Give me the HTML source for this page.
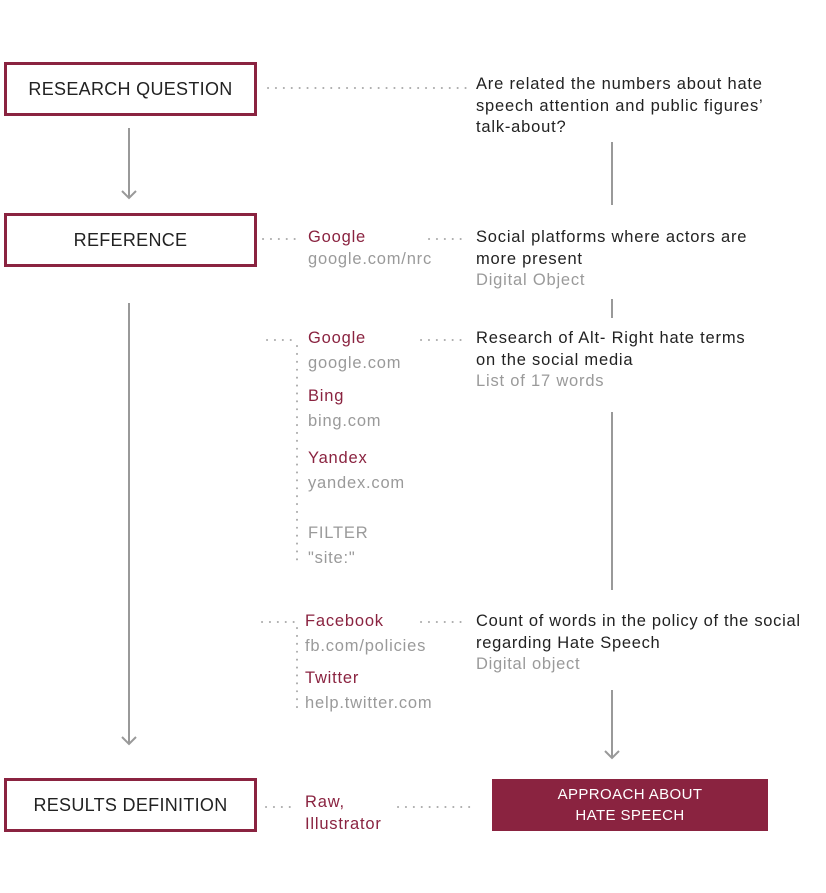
<!DOCTYPE html>
<html><head><meta charset="utf-8"><style>
body{margin:0;width:826px;height:893px;background:#fff;position:relative;overflow:hidden;font-family:"Liberation Sans",sans-serif;}
.t{position:absolute;font-size:16.5px;line-height:21.5px;color:#222;white-space:nowrap;letter-spacing:0.8px}
.r{color:#8a2340}.g{color:#9a9a9a}
.box{position:absolute;left:4px;width:247px;height:48px;border:3px solid #8a2340;box-sizing:content-box;font-size:18px;color:#222;text-align:center;line-height:48px;letter-spacing:0.3px}
svg{position:absolute;left:0;top:0}
</style></head><body>
<svg width="826" height="893">
<g stroke="#999" stroke-width="2" fill="none">
<line x1="129" y1="128" x2="129" y2="198"/><polyline points="122,191 129,198 136,191"/>
<line x1="129" y1="303" x2="129" y2="744"/><polyline points="122,737 129,744 136,737"/>
<line x1="612" y1="142" x2="612" y2="205"/>
<line x1="612" y1="299" x2="612" y2="318"/>
<line x1="612" y1="412" x2="612" y2="590"/>
<line x1="612" y1="690" x2="612" y2="758"/><polyline points="605,751 612,758 619,751"/>
</g>
<g stroke="#aaa" stroke-width="2" stroke-linecap="round" stroke-dasharray="0.1 7.8" fill="none">
<line x1="268" y1="88" x2="466" y2="88"/>
<line x1="263" y1="239" x2="298" y2="239"/><line x1="429" y1="239" x2="466" y2="239"/>
<line x1="267" y1="340" x2="298" y2="340"/><line x1="421" y1="340" x2="462" y2="340"/>
<line x1="297" y1="346" x2="297" y2="566"/>
<line x1="262" y1="622" x2="294" y2="622"/><line x1="421" y1="622" x2="462" y2="622"/>
<line x1="297" y1="628" x2="297" y2="709"/>
<line x1="266" y1="807" x2="290" y2="807"/><line x1="398" y1="807" x2="474" y2="807"/>
</g>
</svg>
<div class="box" style="top:62px">RESEARCH QUESTION</div>
<div class="box" style="top:213px">REFERENCE</div>
<div class="box" style="top:778px">RESULTS DEFINITION</div>
<div style="position:absolute;left:492px;top:779px;width:276px;height:52px;background:#8a2340;color:#fff;font-size:15px;line-height:21px;text-align:center;padding-top:5px;box-sizing:border-box;letter-spacing:0.4px">APPROACH ABOUT<br>HATE SPEECH</div>

<div class="t" style="left:476px;top:74px">Are related the numbers about hate<br>speech attention and public figures’<br>talk-about?</div>
<div class="t" style="left:476px;top:227px">Social platforms where actors are<br>more present<br><span class="g">Digital Object</span></div>
<div class="t" style="left:476px;top:328px">Research of Alt- Right hate terms<br>on the social media<br><span class="g">List of 17 words</span></div>
<div class="t" style="left:476px;top:611px;letter-spacing:0.7px">Count of words in the policy of the social<br>regarding Hate Speech<br><span class="g">Digital object</span></div>

<div class="t" style="left:308px;top:227px"><span class="r">Google</span><br><span class="g">google.com/nrc</span></div>
<div class="t" style="left:308px;top:328px"><span class="r">Google</span></div>
<div class="t g" style="left:308px;top:353px">google.com</div>
<div class="t r" style="left:308px;top:386px">Bing</div>
<div class="t g" style="left:308px;top:411px">bing.com</div>
<div class="t r" style="left:308px;top:448px">Yandex</div>
<div class="t g" style="left:308px;top:473px">yandex.com</div>
<div class="t g" style="left:308px;top:523px">FILTER</div>
<div class="t g" style="left:308px;top:548px">"site:"</div>
<div class="t r" style="left:305px;top:611px">Facebook</div>
<div class="t g" style="left:305px;top:636px">fb.com/policies</div>
<div class="t r" style="left:305px;top:668px">Twitter</div>
<div class="t g" style="left:305px;top:693px">help.twitter.com</div>
<div class="t r" style="left:305px;top:792px">Raw,<br>Illustrator</div>
</body></html>
